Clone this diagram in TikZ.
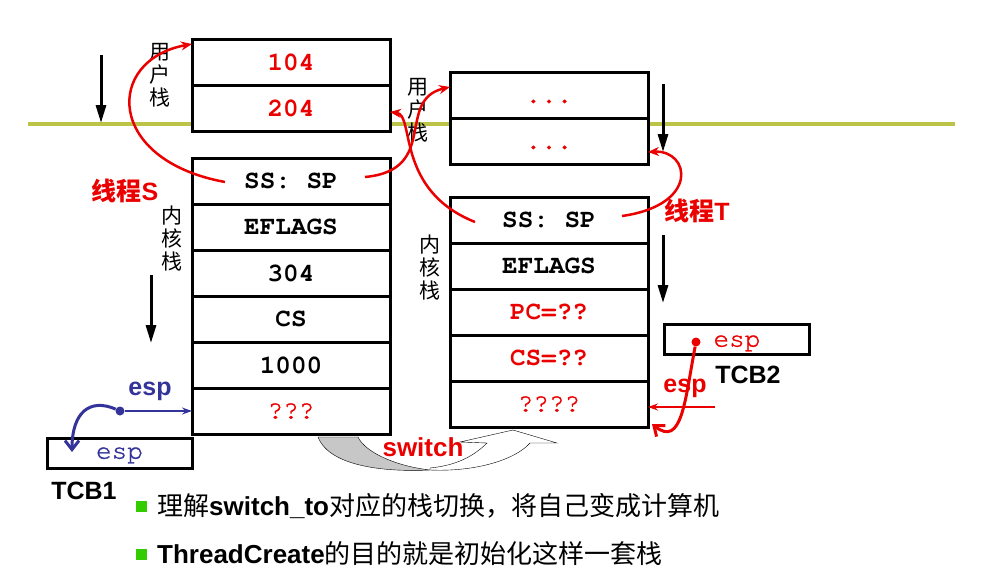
\documentclass[tikz,border=0pt]{standalone}
\usepackage{fontspec}
\setmainfont{Liberation Sans}
\setmonofont{TeX Gyre Cursor}
\newfontfamily\cursormid{TeX Gyre Cursor}[FakeBold=1.2]
\newfontfamily\cjk{Noto Sans CJK SC}
\usetikzlibrary{positioning,arrows.meta}
\definecolor{ground}{RGB}{188,196,72}
\definecolor{espblue}{RGB}{51,51,153}
\definecolor{slidered}{RGB}{235,0,0}
\definecolor{bulletgreen}{RGB}{51,204,0}

\begin{document}
\begin{tikzpicture}[x=1pt,y=-1pt,
  cell/.style={draw,line width=3pt,fill=white,minimum width=198pt,minimum height=46pt,
    inner sep=0pt,outer sep=0pt,font=\ttfamily\bfseries\fontsize{26}{26}\selectfont},
  red cell/.style={cell,text=slidered},
  thin cell/.style={cell,text=slidered,font=\cursormid\fontsize{26}{26}\selectfont},
  tcb/.style={draw,line width=3pt,minimum width=145pt,minimum height=30pt,inner sep=0pt,
    text depth=0pt,font=\cursormid\fontsize{26}{26}\selectfont},
  vlabel/.style={align=center,inner sep=0pt,font=\cjk\fontsize{21}{23}\selectfont},
  tag/.style={inner sep=0pt,font=\bfseries\fontsize{25}{25}\selectfont},
  fall arrow/.style={line width=3pt,-{Triangle[length=18pt,width=10pt]}},
  link/.style={slidered,line width=2.5pt,-{Stealth[length=11pt,width=9pt]}},
  bullet/.style={fill=bulletgreen,minimum size=11pt,inner sep=0pt},
  note/.style={anchor=west,inner sep=0pt,font=\fontsize{26}{26}\selectfont}]

  \useasboundingbox (0,0) rectangle (989,576);
  \draw [ground,line width=4.5pt] (28,124) -- (955,124);

  % stacks of thread S
  \node [red cell] (us1) at (291,62) {104};
  \node [red cell,below=0pt of us1] (us2) {204};
  \node [cell] (ks1) at (291,181) {SS: SP};
  \node [cell,below=0pt of ks1] (ks2) {EFLAGS};
  \node [cell,below=0pt of ks2] (ks3) {304};
  \node [cell,below=0pt of ks3] (ks4) {CS};
  \node [cell,below=0pt of ks4] (ks5) {1000};
  \node [thin cell,below=0pt of ks5] (ks6) {???};

  % stacks of thread T
  \node [thin cell] (ut1) at (549,95) {\vphantom{1}...};
  \node [thin cell,below=0pt of ut1] (ut2) {\vphantom{1}...};
  \node [cell] (kt1) at (549,220) {SS: SP};
  \node [cell,below=0pt of kt1] (kt2) {EFLAGS};
  \node [red cell,below=0pt of kt2] (kt3) {PC=??};
  \node [red cell,below=0pt of kt3] (kt4) {CS=??};
  \node [thin cell,below=0pt of kt4] (kt5) {????};

  \node [vlabel] (ulblS) at (160,75) {用\\户\\栈};
  \node [vlabel] (ulblT) at (418,110) {用\\户\\栈};
  \node [vlabel] (klblS) at (172,239) {内\\核\\栈};
  \node [vlabel] (klblT) at (430,268) {内\\核\\栈};

  \foreach \x/\y in {101/55,151/275,663/84,663/235}
    \draw [fall arrow] (\x,\y) -- ++(0,68);

  % saved stack pointers
  \coordinate (sLeft) at (225,182);
  \coordinate (sRight) at (365,177);
  \coordinate (tLeft) at (475,222);
  \coordinate (tRight) at (622,216);
  \draw [link] (sLeft) .. controls (105,160) and (105,60) .. ([yshift=-5pt]us1.north west);
  \draw [link] (sRight) .. controls (440,170) and (395,100) .. ([yshift=-15pt]ut1.north west);
  \draw [link] (tLeft) .. controls (395,190) and (415,115) .. ([yshift=-4pt]us2.east);
  \draw [link] (tRight) .. controls (700,205) and (690,150) .. ([yshift=-11pt]ut2.east);
  \node [tag,slidered] (thrS) at (125,191) {{\cjk 线程}S};
  \node [tag,slidered] (thrT) at (697,211) {{\cjk 线程}T};

  % TCB1
  \node [tcb,text=espblue] (tcb1) at (119.5,453) {esp};
  \node [tag] (tcb1lbl) at (84,491) {TCB1};
  \node [tag,espblue] (esp1) at (150,391) {esp};
  \node [circle,fill=espblue,inner sep=0pt,minimum size=9pt] (esp1dot) at (120,411) {};
  \coordinate (tcb1esp) at (72,452);
  \draw [espblue,line width=2.5pt,-{Stealth[length=10pt,width=7pt]}] (esp1dot) -- (ks6.west);
  \draw [espblue,line width=3pt,-{Straight Barb[length=9pt,width=14pt]}]
    (esp1dot) .. controls (90,398) and (72,412) .. (tcb1esp);

  % TCB2
  \node [tcb] (tcb2) at (736.5,339.5) {};
  \node [inner sep=0pt,text=slidered,text depth=0pt,font=\cursormid\fontsize{26}{26}\selectfont] (tcb2esp) at (737,341) {esp};
  \node [circle,fill=slidered,inner sep=0pt,minimum size=9pt] (esp2dot) at (696,342) {};
  \node [tag,slidered] (esp2) at (685,388) {esp};
  \coordinate (esp2end) at (715,407);
  \coordinate (kt5esp) at (652,424);
  \draw [slidered,line width=2.5pt,-{Stealth[length=10pt,width=7pt]}] (esp2end) -- (esp2end -| kt5.east);
  \draw [slidered,line width=3pt,-{Straight Barb[length=9pt,width=14pt]}]
    (esp2dot) .. controls (685,400) and (682,448) .. (kt5esp);
  \node [tag] (tcb2lbl) at (748,375) {TCB2};

  % switch
  \filldraw [fill=black!22,thin] (318,437) .. controls (330,468) and (390,472) .. (430,470)
    .. controls (395,466) and (365,452) .. (358,437) -- cycle;
  \filldraw [fill=white,thin] (430,470) .. controls (475,472) and (515,460) .. (530,443)
    -- (557,443) -- (513,430) -- (460,442) -- (487,443)
    .. controls (470,460) and (450,466) .. (430,468) -- cycle;
  \node [tag,slidered,font=\bfseries\fontsize{26}{26}\selectfont] (switch) at (423,447) {switch};

  \node [bullet] (b1) at (141,506) {};
  \node [note] (n1) at (157,506) {{\cjk 理解}\textbf{switch\_to}{\cjk 对应的栈切换，将自己变成计算机}};
  \node [bullet] (b2) at (141,554) {};
  \node [note] (n2) at (157,554) {\textbf{ThreadCreate}{\cjk 的目的就是初始化这样一套栈}};
\end{tikzpicture}
\end{document}
